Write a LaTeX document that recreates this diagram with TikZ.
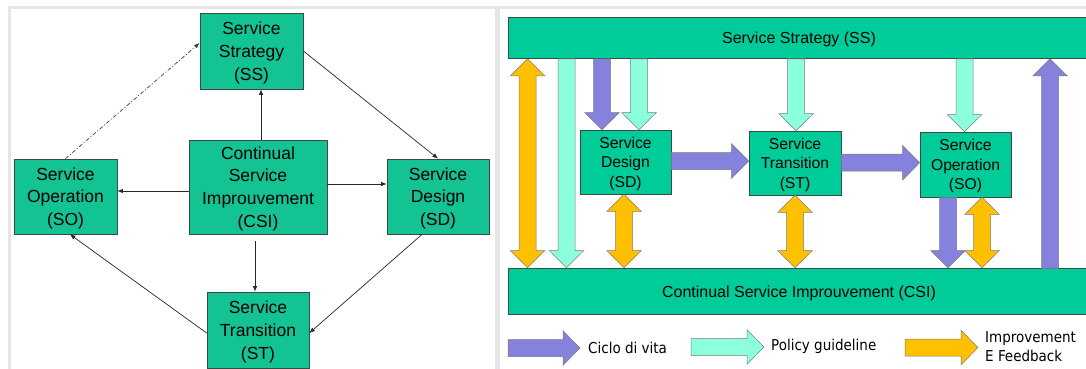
\documentclass[tikz,border=0pt]{standalone}
\usepackage{fontspec}
\setmainfont{Liberation Sans}
\newfontfamily\legendfont{DejaVu Sans Condensed}
\usetikzlibrary{arrows.meta,calc}

\definecolor{framegray}{HTML}{E6E6E6}
\definecolor{boxgreen}{HTML}{14C394}
\definecolor{bargreen}{HTML}{00CC99}
\definecolor{boxline}{HTML}{3C4A45}
\definecolor{lifecycle}{HTML}{8482DC}
\definecolor{policy}{HTML}{8CFFDD}
\definecolor{feedback}{HTML}{FFC000}
\definecolor{arrowline}{HTML}{7A7A7A}

% block arrow dimensions
\def\shafthw{8.5pt}
\def\headhw{17.25pt}
\def\headlen{17pt}

% single-headed block arrow: #1 style, #2 start, #3 tip
\newcommand{\blockarrow}[3]{%
  \coordinate (ba-s) at #2;
  \coordinate (ba-e) at #3;
  \coordinate (ba-b) at ($(ba-e)!\headlen!(ba-s)$);
  \path[#1] ($(ba-s)!\shafthw!90:(ba-e)$) -- ($(ba-b)!\shafthw!90:(ba-e)$)
    -- ($(ba-b)!\headhw!90:(ba-e)$) -- (ba-e) -- ($(ba-b)!\headhw!-90:(ba-e)$)
    -- ($(ba-b)!\shafthw!-90:(ba-e)$) -- ($(ba-s)!\shafthw!-90:(ba-e)$) -- cycle;}

% double-headed block arrow: #1 style, #2 one tip, #3 other tip
\newcommand{\doublearrow}[3]{%
  \coordinate (ba-s) at #2;
  \coordinate (ba-e) at #3;
  \coordinate (ba-b) at ($(ba-e)!\headlen!(ba-s)$);
  \coordinate (ba-a) at ($(ba-s)!\headlen!(ba-e)$);
  \path[#1] (ba-s) -- ($(ba-a)!\headhw!90:(ba-e)$) -- ($(ba-a)!\shafthw!90:(ba-e)$)
    -- ($(ba-b)!\shafthw!90:(ba-e)$) -- ($(ba-b)!\headhw!90:(ba-e)$) -- (ba-e)
    -- ($(ba-b)!\headhw!-90:(ba-e)$) -- ($(ba-b)!\shafthw!-90:(ba-e)$)
    -- ($(ba-a)!\shafthw!-90:(ba-e)$) -- ($(ba-a)!\headhw!-90:(ba-e)$) -- cycle;}

\tikzset{
  cyclebox/.style={draw=boxline, line width=0.8pt, fill=boxgreen, align=center,
    inner sep=0pt, text depth=-3.5pt, font=\fontsize{17.5}{22.7}\selectfont},
  phasebox/.style={draw=boxline, line width=0.7pt, fill=bargreen, align=center,
    inner sep=0pt, text depth=-4.5pt, font=\fontsize{15.7}{19.5}\selectfont},
  bar/.style={draw=boxline, line width=0.7pt, fill=bargreen, inner sep=0pt,
    text depth=-1.5pt, font=\fontsize{16}{19}\selectfont},
  conn/.style={draw=black!85, line width=0.7pt, -{Latex[length=5.5pt,width=4.5pt]}},
  feedbackconn/.style={conn, draw=black!75, dash pattern=on 4pt off 2pt on 1pt off 2pt},
  lifearrow/.style={fill=lifecycle, draw=arrowline, line width=0.5pt},
  policyarrow/.style={fill=policy, draw=arrowline, line width=0.5pt},
  feedarrow/.style={fill=feedback, draw=arrowline, line width=0.5pt},
  legendtext/.style={anchor=west, inner sep=0pt, align=left,
    font=\legendfont\fontsize{15}{19.5}\selectfont},
}

\begin{document}
\begin{tikzpicture}[x=1pt, y=-1pt]
\useasboundingbox (0,0) rectangle (1086,369);

% panel frames
\fill[white] (0,0) rectangle (1086,369);
\fill[framegray] (8,6) rectangle (1086,369);
\fill[white] (11,9) rectangle (495,369);
\fill[white] (500,9) rectangle (1086,369);

% ---------- lifecycle as a cycle ----------
\node[cyclebox, minimum width=103pt, minimum height=76pt] (lss) at (251.5,51)
  {Service\\Strategy\\(SS)};
\node[cyclebox, minimum width=138pt, minimum height=94pt] (lcsi) at (258,187)
  {Continual\\Service\\Improuvement\\(CSI)};
\node[cyclebox, minimum width=103pt, minimum height=75pt] (lso) at (65.5,196.5)
  {Service\\Operation\\(SO)};
\node[cyclebox, minimum width=102pt, minimum height=75pt] (lsd) at (438,196.5)
  {Service\\Design\\(SD)};
\node[cyclebox, minimum width=102pt, minimum height=76pt] (lst) at (258,330)
  {Service\\Transition\\(ST)};

\coordinate (c-up) at ([xshift=3pt]lcsi.north);
\draw[conn] (c-up) -- (c-up |- lss.south);
\draw[conn] (lss.east) -- (lsd.north);
\coordinate (c-right) at ([yshift=3pt]lcsi.east);
\draw[conn] (c-right) -- (c-right -| lsd.west);
\coordinate (c-left) at ([yshift=-4pt]lcsi.west);
\draw[conn] (c-left) -- (c-left -| lso.east);
\coordinate (c-down) at ([xshift=-3pt,yshift=-7pt]lcsi.south);
\draw[conn] (c-down) -- (c-down |- lst.north);
\draw[conn] ([xshift=-16pt]lsd.south) -- ([yshift=-3pt]lst.east);
\draw[conn] ([yshift=-3pt]lst.west) -- ([xshift=4.5pt]lso.south);
\draw[feedbackconn] (lso.north) -- ([yshift=8pt]lss.west);

% ---------- lifecycle with its flows ----------
\node[bar, minimum width=582pt, minimum height=41pt] (ssr) at (799,38)
  {Service Strategy (SS)};
\node[bar, minimum width=582pt, minimum height=46.5pt] (csir) at (799,291.25)
  {Continual Service Improuvement (CSI)};
\node[phasebox, minimum width=91pt, minimum height=64pt] (sdr) at (625.5,162)
  {Service\\Design\\(SD)};
\node[phasebox, minimum width=92pt, minimum height=64pt] (str) at (795,163)
  {Service\\Transition\\(ST)};
\node[phasebox, minimum width=91pt, minimum height=65pt] (sor) at (965.5,164.5)
  {Service\\Operation\\(SO)};

% columns of the vertical flows
\coordinate (x-fb) at (527.5,0);
\coordinate (x-pol) at (566.5,0);
\coordinate (x-back) at (1050,0);
\coordinate (sd-life) at ([xshift=-23.5pt]sdr.north);
\coordinate (sd-pol) at ([xshift=13.5pt]sdr.north);
\coordinate (st-pol) at ([xshift=1pt]str.north);
\coordinate (so-pol) at ([xshift=-1pt]sor.north);
\coordinate (sd-fb) at ([xshift=-1.5pt]sdr.south);
\coordinate (st-fb) at (str.south);
\coordinate (so-life) at ([xshift=-17.5pt]sor.south);
\coordinate (so-fb) at ([xshift=16.5pt]sor.south);

\doublearrow{feedarrow}{(x-fb |- ssr.south)}{(x-fb |- csir.north)}
\blockarrow{policyarrow}{(x-pol |- ssr.south)}{(x-pol |- csir.north)}
\blockarrow{lifearrow}{(sd-life |- ssr.south)}{(sd-life)}
\blockarrow{policyarrow}{(sd-pol |- ssr.south)}{(sd-pol)}
\blockarrow{policyarrow}{(st-pol |- ssr.south)}{(st-pol)}
\blockarrow{policyarrow}{(so-pol |- ssr.south)}{(so-pol)}
\doublearrow{feedarrow}{(sd-fb)}{(sd-fb |- csir.north)}
\doublearrow{feedarrow}{(st-fb)}{(st-fb |- csir.north)}
\blockarrow{lifearrow}{(so-life)}{(so-life |- csir.north)}
\doublearrow{feedarrow}{(so-fb)}{(so-fb |- csir.north)}
\blockarrow{lifearrow}{([yshift=-1pt]x-back |- csir.north)}{(x-back |- ssr.south)}

\coordinate (sd-out) at ([yshift=1pt]sdr.east);
\blockarrow{lifearrow}{(sd-out)}{(sd-out -| str.west)}
\coordinate (st-out) at ([yshift=0.3pt]str.east);
\blockarrow{lifearrow}{(st-out)}{(st-out -| sor.west)}

% legend
\blockarrow{lifearrow}{(508,348)}{(580,348)}
\node[legendtext] (leg-life) at (588,348) {Ciclo di vita};
\blockarrow{policyarrow}{(691,347)}{(764,347)}
\node[legendtext] (leg-pol) at (771,346) {Policy guideline};
\blockarrow{feedarrow}{(905,347.5)}{(978,347.5)}
\node[legendtext] (leg-fb) at (985,346.5) {Improvement\\E Feedback};
\end{tikzpicture}
\end{document}
